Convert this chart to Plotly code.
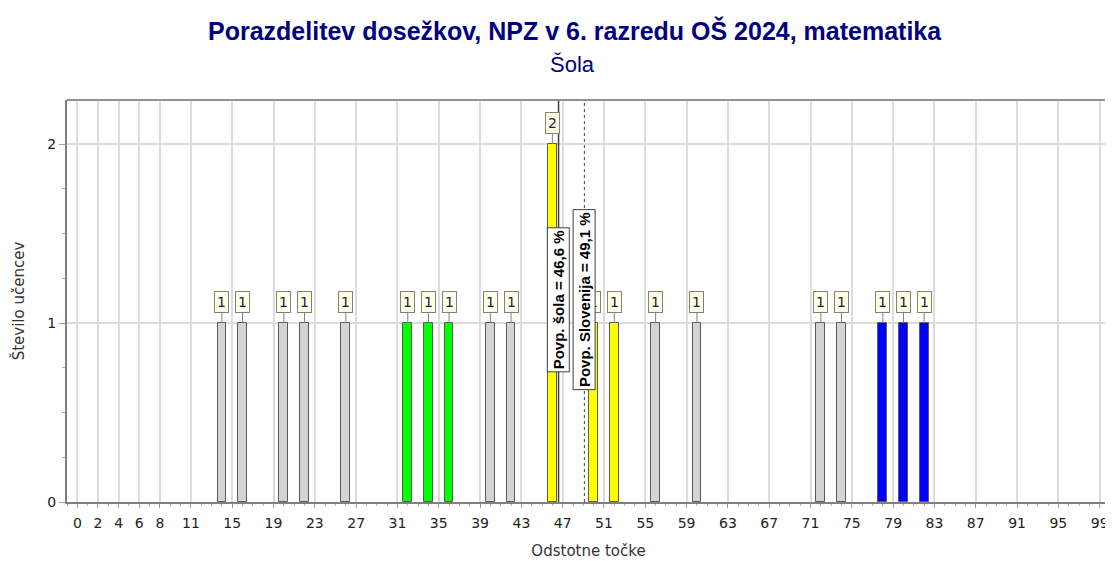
import plotly.graph_objects as go

# Data
scores = [14, 16, 20, 22, 26, 32, 34, 36, 40, 42, 46, 50, 52, 56, 60, 72, 74, 78, 80, 82]
counts = [1, 1, 1, 1, 1, 1, 1, 1, 1, 1, 2, 1, 1, 1, 1, 1, 1, 1, 1, 1]
groups = ["g", "g", "g", "g", "g", "G", "G", "G", "g", "g", "Y", "Y", "Y", "g", "g", "g", "g", "B", "B", "B"]
tick_vals = [0, 2, 4, 6, 8, 11, 15, 19, 23, 27, 31, 35, 39, 43, 47, 51, 55, 59, 63, 67, 71, 75, 79, 83, 87, 91, 95, 99]
mean_school = 46.6
mean_slo = 49.1
title = "Porazdelitev dosežkov, NPZ v 6. razredu OŠ 2024, matematika"
subtitle = "Šola"

color_map = {"g": "#d3d3d3", "G": "#00ff00", "Y": "#ffff00", "B": "#0000ff"}
colors = [color_map[g] for g in groups]

fig = go.Figure()
fig.add_trace(go.Bar(
    x=scores, y=counts, width=0.85,
    marker=dict(color=colors, line=dict(color="#5a5a5a", width=1)),
    hoverinfo="x+y", showlegend=False,
))

annotations = []
for s, c in zip(scores, counts):
    annotations.append(dict(
        x=s, y=c, xref="x", yref="y", text=str(c), showarrow=True,
        arrowhead=0, arrowwidth=1, arrowcolor="#808080", ax=0, ay=-21,
        bgcolor="#ffffe1", bordercolor="#808080", borderwidth=1, borderpad=2,
        font=dict(family="DejaVu Sans", size=14, color="#1a1a50"),
    ))

for xv, txt in [(mean_school, "Povp. šola = 46,6 %"), (mean_slo, "Povp. Slovenija = 49,1 %")]:
    annotations.append(dict(
        x=xv, y=1.13, xref="x", yref="y", showarrow=False,
        text=txt, textangle=-90,
        bgcolor="white", bordercolor="#404040", borderwidth=1, borderpad=2,
        font=dict(family="Liberation Sans", size=15, color="black", weight="bold"),
    ))

annotations.append(dict(
    x=0.487, y=1, xref="paper", yref="paper", yanchor="middle", yshift=70,
    text="<b>" + title + "</b>", showarrow=False,
    font=dict(family="Liberation Sans", size=25, color="#000080"),
))
annotations.append(dict(
    x=0.485, y=1, xref="paper", yref="paper", yanchor="middle", yshift=36,
    text=subtitle, showarrow=False,
    font=dict(family="Liberation Sans", size=22, color="#000080"),
))

shapes = [
    dict(type="line", xref="x", yref="paper", x0=mean_school, x1=mean_school, y0=0, y1=1,
         line=dict(color="#404040", width=1.5), layer="above"),
    dict(type="line", xref="x", yref="paper", x0=mean_slo, x1=mean_slo, y0=0, y1=1,
         line=dict(color="#404040", width=1, dash="dot"), layer="above"),
    dict(type="line", xref="paper", yref="paper", x0=0, x1=1, y0=1, y1=1,
         line=dict(color="#909090", width=2)),
]

fig.update_layout(
    width=1105, height=553,
    margin=dict(l=59, r=3, t=92, b=59, autoexpand=False),
    paper_bgcolor="white", plot_bgcolor="white",
    annotations=annotations,
    shapes=shapes,
    bargap=0,
)
fig.update_xaxes(
    range=[-1, 100], tickmode="array", tickvals=tick_vals,
    ticktext=[str(v) for v in tick_vals], automargin=False,
    showgrid=True, gridcolor="#dcdcdc", gridwidth=2,
    showline=True, linecolor="#808080", linewidth=2,
    ticks="outside", ticklen=4, tickcolor="#a0a0a0", ticklabelstandoff=3,
    minor=dict(dtick=1, ticks="outside", ticklen=2, tickcolor="#b0b0b0", showgrid=False),
    tickfont=dict(family="DejaVu Sans", size=14, color="#222222"),
    title=dict(text="Odstotne točke", standoff=16,
               font=dict(family="DejaVu Sans", size=15, color="#333333")),
    zeroline=False,
)
fig.update_yaxes(
    range=[0, 2.246], tickmode="array", tickvals=[0, 1, 2], automargin=False,
    showgrid=True, gridcolor="#dcdcdc", gridwidth=2,
    showline=True, linecolor="#808080", linewidth=2,
    ticks="outside", ticklen=6, tickcolor="#a0a0a0",
    minor=dict(dtick=0.25, ticks="outside", ticklen=3, tickcolor="#b0b0b0", showgrid=False),
    tickfont=dict(family="DejaVu Sans", size=14, color="#222222"),
    title=dict(text="Število učencev", standoff=19,
               font=dict(family="DejaVu Sans", size=15, color="#333333")),
    zeroline=False,
)

fig.write_html("out.html")
